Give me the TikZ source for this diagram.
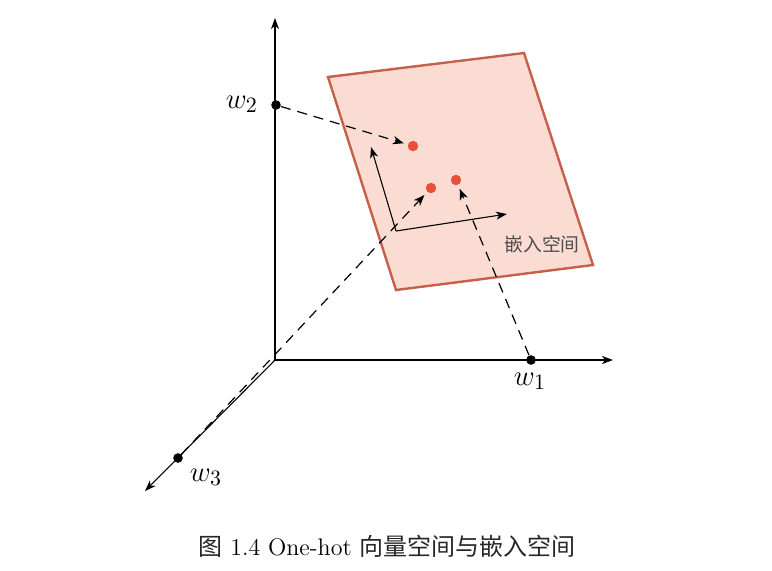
\documentclass[tikz,border=0pt]{standalone}
\usepackage{fontspec}
\newfontfamily\cjk{Noto Sans CJK SC}
\usetikzlibrary{arrows.meta}
\definecolor{planefill}{HTML}{FBDCD2}
\definecolor{planeedge}{HTML}{C6604A}
\definecolor{reddot}{HTML}{E84E3A}
\begin{document}
\begin{tikzpicture}[x=0.5pt,y=-0.5pt,
  axis/.style={line width=0.55pt,-{Stealth[length=5.5pt,width=4pt,inset=1.6pt]}},
  dashline/.style={line width=0.6pt,dash pattern=on 5pt off 3.5pt,-{Stealth[length=5.5pt,width=4.2pt,inset=1.6pt]},shorten >=2pt},
  blackdot/.style={circle,fill=black,inner sep=0pt,minimum size=4.8pt},
  reddotst/.style={circle,fill=reddot,inner sep=0pt,minimum size=5.2pt},
  axlabel/.style={font=\fontsize{15.5}{18}\selectfont}]
\useasboundingbox (0,0) rectangle (772,570);
% plane
\draw[line width=1.2pt,draw=planeedge,fill=planefill,line join=miter]
  (328,77) coordinate (c1) -- (524,53) coordinate (c2) -- (593,265) coordinate (c3) -- (396,290) coordinate (c4) -- cycle;
% axes
\coordinate (O) at (275,360);
\coordinate (yend) at (275,18);
\coordinate (xend) at (613,360);
\coordinate (zend) at (145,491);
\draw[axis] (O) -- (yend);
\draw[axis] (O) -- (xend);
\draw[axis] (O) -- (zend);
% points on axes
\node[blackdot] (w2) at (276,105) {};
\node[blackdot] (w1) at (531,360) {};
\node[blackdot] (w3) at (178,458) {};
\node[axlabel,anchor=east] (l2) at (265,104) {$w_2$};
\node[axlabel] (l1) at (530,381) {$w_1$};
\node[axlabel] (l3) at (206,477) {$w_3$};
% inner axes in plane
\coordinate (o2) at (396,231);
\coordinate (u2) at (371,147);
\coordinate (r2) at (507,214);
\draw[axis] (o2) -- (u2);
\draw[axis] (o2) -- (r2);
\node[text=black!70,font=\cjk\fontsize{9.4}{11}\selectfont] (emb) at (542,244) {嵌入空间};
% embedded points
\node[reddotst] (p2) at (413,146) {};
\node[reddotst] (p3) at (431,188) {};
\node[reddotst] (p1) at (456,180) {};
% dashed mappings
\draw[dashline] (w2) -- (p2);
\draw[dashline] (w3) -- (p3);
\draw[dashline] (w1) -- (p1);
% caption
\node[font=\fontsize{12}{14}\selectfont] (cap) at (387,546) {{\cjk\color{black!85}图} 1.4 One-hot {\cjk\color{black!85}向量空间与嵌入空间}};
\end{tikzpicture}
\end{document}
